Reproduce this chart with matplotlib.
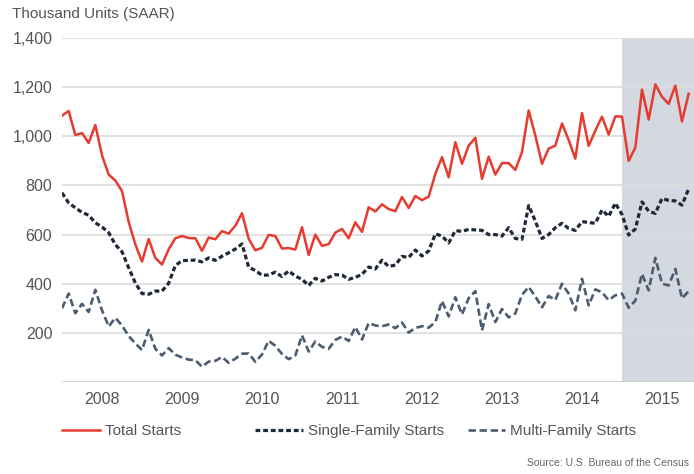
import matplotlib.pyplot as plt
import numpy as np

# Housing starts, thousand units SAAR, monthly Jan 2008 - Nov 2015
total = [1084, 1103, 1005, 1013, 973, 1046, 923, 844, 820, 777, 652, 560,
         490, 582, 505, 478, 540, 585, 594, 586, 585, 534, 588, 581,
         614, 604, 636, 687, 583, 536, 546, 599, 594, 543, 545, 539,
         630, 517, 600, 554, 561, 608, 623, 585, 650, 611, 711, 694,
         723, 704, 695, 753, 708, 757, 740, 754, 847, 915, 833, 976,
         888, 962, 994, 827, 917, 844, 891, 891, 863, 936, 1105, 1003,
         888, 950, 962, 1052, 985, 909, 1095, 961, 1023, 1080, 1007, 1081,
         1080, 900, 954, 1190, 1068, 1211, 1161, 1132, 1206, 1060, 1173]

single = [770, 729, 709, 690, 679, 648, 631, 608, 559, 530, 465, 403,
          360, 357, 370, 370, 402, 474, 494, 495, 496, 489, 505, 495,
          512, 526, 541, 562, 467, 454, 434, 436, 447, 429, 452, 431,
          418, 393, 422, 411, 426, 437, 435, 418, 426, 438, 468, 460,
          496, 470, 476, 511, 507, 537, 513, 533, 603, 594, 566, 616,
          613, 621, 619, 617, 600, 600, 594, 628, 584, 581, 718, 655,
          584, 600, 628, 646, 625, 617, 653, 649, 646, 700, 674, 728,
          682, 598, 623, 733, 695, 686, 747, 739, 737, 720, 786]

multi = [300, 360, 280, 318, 285, 375, 292, 226, 261, 230, 187, 157,
         130, 212, 135, 108, 138, 111, 100, 91, 89, 62, 83, 86,
         102, 78, 95, 115, 116, 82, 112, 168, 147, 114, 93, 108,
         190, 124, 165, 143, 135, 171, 185, 167, 224, 173, 240, 230,
         227, 234, 219, 242, 201, 220, 227, 221, 244, 330, 267, 345,
         275, 341, 370, 210, 317, 244, 297, 263, 279, 355, 387, 348,
         304, 350, 334, 400, 360, 292, 420, 312, 377, 365, 333, 353,
         360, 302, 331, 440, 373, 505, 400, 393, 460, 340, 370]

years = [2008, 2009, 2010, 2011, 2012, 2013, 2014, 2015]
yticks = [0, 200, 400, 600, 800, 1000, 1200, 1400]
shade_start = 2015.0

plt.rcParams['font.family'] = ['Liberation Sans', 'DejaVu Sans']

t = 2008 + np.arange(len(total)) / 12.0

W, H = 694, 474
fig = plt.figure(figsize=(W / 100, H / 100), dpi=100)
ax = fig.add_axes([62 / W, 1 - 382 / H, 1 - 62 / W, (382 - 38) / H])

xmax = 2008 + 632 / 80
ax.axvspan(shade_start, xmax, color='#d3d8e1', lw=0, zorder=0)

for v in yticks[1:]:
    ax.axhline(v, color='#dcdcdc', lw=1.2, zorder=1)
ax.axhline(0, color='#cfcfcf', lw=2.0, zorder=1)

l1, = ax.plot(t, total, color='#e63b2e', lw=1.8, zorder=4)
l2, = ax.plot(t, single, color='#1e2838', lw=2.3, dashes=(1.5, 0.9), zorder=3)
l3, = ax.plot(t, multi, color='#4b5b70', lw=1.9, dashes=(2.8, 1.4), zorder=3)

ax.set_xlim(2008.0, xmax)
ax.set_ylim(0, 1400)

for s in ax.spines.values():
    s.set_visible(False)

ax.set_yticks(yticks[1:])
ax.set_yticklabels([f'{v:,}' for v in yticks[1:]])
ax.set_xticks([])
ax.set_xticks([y + 0.5 for y in years], minor=True)
ax.set_xticklabels([str(y) for y in years], minor=True)
ax.tick_params(axis='y', length=0, pad=7, labelsize=11.5, labelcolor='#555555')
ax.tick_params(axis='x', which='minor', length=0, pad=7, labelsize=11.5,
               labelcolor='#555555')

fig.text(12 / W, 1 - 14 / H, 'Thousand Units (SAAR)', fontsize=11,
         color='#555555', va='center', ha='left')

# legend entries placed one by one
entries = [(l1, 'Total Starts', 62, 38),
           (l2, 'Single-Family Starts', 255, 48),
           (l3, 'Multi-Family Starts', 468, 37)]
fs = 11
for handle, label, x0, hl in entries:
    leg = fig.legend([handle], [label], loc='center left',
                     bbox_to_anchor=(x0 / W, 1 - 431 / H), frameon=False,
                     fontsize=fs, handlelength=hl * 0.72 / fs,
                     handletextpad=0.35, borderpad=0, borderaxespad=0,
                     labelcolor='#555555')

fig.text(527 / W, 1 - 463 / H, 'Source: U.S. Bureau of the Census',
         fontsize=7.5, color='#666666', va='center', ha='left')

fig.savefig('out.png', dpi=100)
